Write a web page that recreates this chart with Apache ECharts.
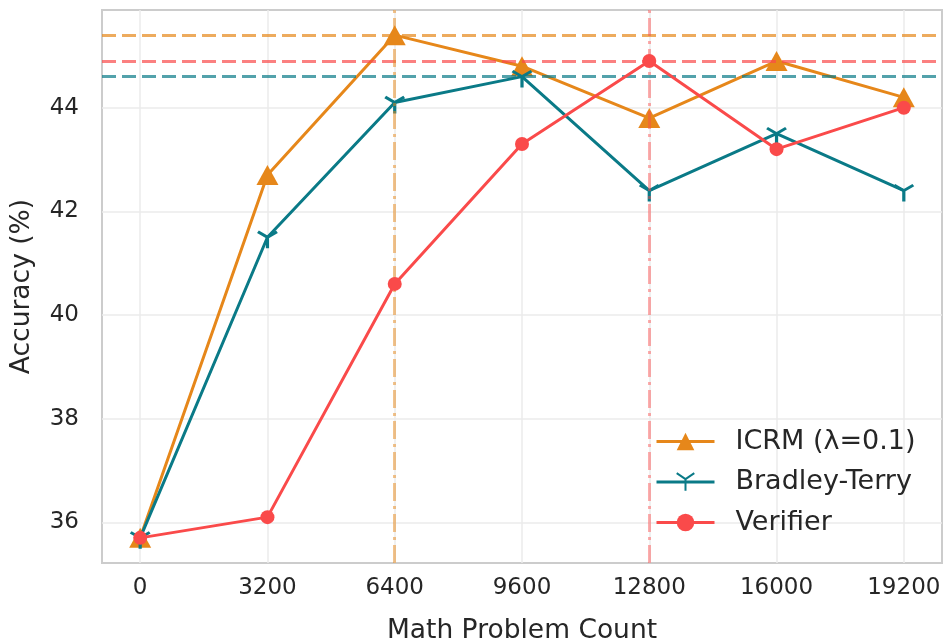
<!DOCTYPE html>
<html><head><meta charset="utf-8">
<script src="https://cdn.jsdelivr.net/npm/echarts@6/dist/echarts.min.js"></script>
<style>html,body{margin:0;padding:0;background:#fff}#c{width:944px;height:641px}</style>
</head><body><div id="c"></div>
<script>
const xValues = [0, 3200, 6400, 9600, 12800, 16000, 19200];
const xTicks = [0, 3200, 6400, 9600, 12800, 16000, 19200];
const yTicks = [36, 38, 40, 42, 44];
const icrm = [35.7, 42.7, 45.4, 44.8, 43.8, 44.9, 44.2];
const bradleyTerry = [35.7, 41.5, 44.1, 44.6, 42.4, 43.5, 42.4];
const verifier = [35.7, 36.1, 40.6, 43.3, 44.9, 43.2, 44.0];
const bestLines = [45.4, 44.9, 44.6];
const bestX = [6400, 12800];

const cOrange = '#E6871A', cTeal = '#0A7A87', cRed = '#FA4A4A';
const font = 'DejaVu Sans';
const pair = arr => xValues.map((x, i) => [x, arr[i]]);
const triDown = 'path://M0,0L0,10M0,0L-8.66,-5M0,0L8.66,-5';

const chart = echarts.init(document.getElementById('c'), null, {renderer: 'canvas'});
chart.setOption({
  animation: false,
  backgroundColor: '#fff',
  grid: {left: 102, right: 2, top: 10, bottom: 78, outerBoundsMode: 'none', containLabel: false,
         show: true, borderColor: '#cccccc', borderWidth: 2, backgroundColor: 'transparent'},
  xAxis: {
    type: 'value', min: -960, max: 20160,
    name: 'Math Problem Count', nameLocation: 'middle', nameGap: 55,
    nameTextStyle: {fontFamily: font, fontSize: 26.5, color: '#262626'},
    axisLine: {show: false},
    axisTick: {show: false, customValues: xTicks},
    axisLabel: {customValues: xTicks, formatter: v => String(v), fontFamily: font, fontSize: 23, color: '#262626', margin: 14},
    splitLine: {show: true, lineStyle: {color: '#ebebeb', width: 1.5}}
  },
  yAxis: {
    type: 'value', min: 35.215, max: 45.885,
    name: 'Accuracy (%)', nameLocation: 'middle', nameGap: 66, nameRotate: 90,
    nameTextStyle: {fontFamily: font, fontSize: 26.5, color: '#262626'},
    axisLine: {show: false},
    axisTick: {show: false, customValues: yTicks},
    axisLabel: {customValues: yTicks, formatter: v => String(v), fontFamily: font, fontSize: 23, color: '#262626', margin: 23},
    splitLine: {show: true, lineStyle: {color: '#ebebeb', width: 1.5}}
  },
  legend: {
    orient: 'vertical', left: 650, top: 423,
    itemWidth: 58, itemHeight: 22, itemGap: 13.5,
    lineStyle: {width: 3},
    textStyle: {fontFamily: font, fontSize: 27, color: '#262626', padding: [0, 0, 0, 16]},
    data: ['ICRM (λ=0.1)', 'Bradley-Terry', 'Verifier']
  },
  series: [
    {
      name: 'refs', type: 'line', data: [], z: 1, silent: true,
      markLine: {
        silent: true, symbol: 'none', label: {show: false}, animation: false,
        data: [
          {yAxis: bestLines[0], lineStyle: {color: cOrange, opacity: 0.7, width: 3, type: [14, 6]}},
          {yAxis: bestLines[1], lineStyle: {color: cRed, opacity: 0.7, width: 3, type: [14, 6]}},
          {yAxis: bestLines[2], lineStyle: {color: cTeal, opacity: 0.7, width: 3, type: [14, 6]}},
          {xAxis: bestX[0], lineStyle: {color: cOrange, opacity: 0.5, width: 3, type: [18, 5, 3, 5]}},
          {xAxis: bestX[1], lineStyle: {color: cRed, opacity: 0.45, width: 3, type: [18, 5, 3, 5]}}
        ]
      }
    },
    {
      name: 'ICRM (λ=0.1)', type: 'line', data: pair(icrm), z: 3,
      symbol: 'triangle', symbolSize: [22, 20],
      lineStyle: {color: cOrange, width: 3}, itemStyle: {color: cOrange}
    },
    {
      name: 'Bradley-Terry', type: 'line', data: pair(bradleyTerry), z: 4,
      symbol: triDown, symbolSize: [19, 16.5], symbolOffset: [0, 2.75],
      lineStyle: {color: cTeal, width: 3}, itemStyle: {color: cTeal, borderColor: cTeal, borderWidth: 3}
    },
    {
      name: 'Verifier', type: 'line', data: pair(verifier), z: 5,
      symbol: 'circle', symbolSize: 14,
      lineStyle: {color: cRed, width: 3}, itemStyle: {color: cRed}
    }
  ]
});
</script></body></html>
